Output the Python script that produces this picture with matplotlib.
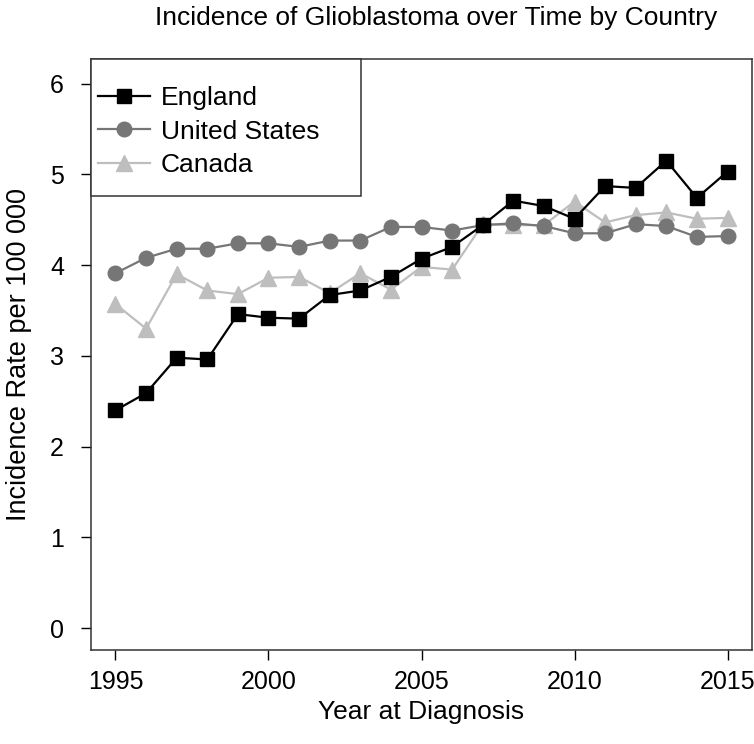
import matplotlib
matplotlib.use("Agg")
import matplotlib.pyplot as plt
from matplotlib.patches import Rectangle

years = list(range(1995, 2016))
england = [2.40, 2.59, 2.98, 2.96, 3.46, 3.42, 3.41, 3.67, 3.72, 3.87, 4.07, 4.20,
           4.44, 4.71, 4.65, 4.51, 4.87, 4.85, 5.15, 4.74, 5.03]
united_states = [3.91, 4.08, 4.18, 4.18, 4.24, 4.24, 4.20, 4.27, 4.27, 4.42, 4.42, 4.38,
                 4.44, 4.46, 4.43, 4.35, 4.35, 4.45, 4.43, 4.31, 4.32]
canada = [3.57, 3.30, 3.90, 3.72, 3.68, 3.86, 3.87, 3.69, 3.91, 3.73, 3.98, 3.95,
          4.45, 4.44, 4.44, 4.70, 4.47, 4.55, 4.58, 4.51, 4.52]
series_names = ["England", "United States", "Canada"]
xticks = [1995, 2000, 2005, 2010, 2015]
yticks = [0, 1, 2, 3, 4, 5, 6]

plt.rcParams['font.family'] = ['Liberation Sans', 'DejaVu Sans']

fig = plt.figure(figsize=(7.54, 7.44), dpi=100)
ax = fig.add_axes([91/754, 1 - 650/744, 661/754, 591/744])

c_eng, c_us, c_can = "#000000", "#767676", "#BEBEBE"
lw = 1.6
l3, = ax.plot(years, canada, color=c_can, lw=lw, marker="^", ms=11.5, mec=c_can, mfc=c_can,
              label=series_names[2], zorder=2)
l2, = ax.plot(years, united_states, color=c_us, lw=lw, marker="o", ms=10.5, mec=c_us, mfc=c_us,
              label=series_names[1], zorder=3)
l1, = ax.plot(years, england, color=c_eng, lw=lw, marker="s", ms=10, mec=c_eng, mfc=c_eng,
              label=series_names[0], zorder=4)

ax.set_xlim(1994.2, 2015.8)
ax.set_ylim(-0.24, 6.27)
ax.set_xticks(xticks)
ax.set_yticks(yticks)
ax.tick_params(axis='both', direction='out', length=7.5, width=1, labelsize=18, colors='black')
ax.tick_params(axis='x', pad=7)
ax.tick_params(axis='y', pad=12)
for s in ax.spines.values():
    s.set_linewidth(1.1)
    s.set_color('#333333')

ax.set_xlabel("Year at Diagnosis", fontsize=19)
ax.set_ylabel("Incidence Rate per 100 000", fontsize=19.5)
ax.xaxis.set_label_coords(0.5, (650 - 712) / 591)
ax.yaxis.set_label_coords((19 - 91) / 661, 0.5)
ax.xaxis.label.set_va('center')
ax.yaxis.label.set_va('center')

fig.text(436/754, 1 - 18/744, "Incidence of Glioblastoma over Time by Country",
         fontsize=19, ha='center', va='center')

# legend box
rect = Rectangle((0, (650 - 196) / 591), (361 - 91) / 661, 1 - (650 - 196) / 591,
                 transform=ax.transAxes, fill=True, facecolor='white',
                 edgecolor='#333333', lw=1.1, zorder=5, clip_on=False)
ax.add_patch(rect)
leg = ax.legend(handles=[l1, l2, l3], loc='upper left', frameon=False, fontsize=19,
                handlelength=2.0, handletextpad=0.4, labelspacing=0.35,
                borderaxespad=0.0, bbox_to_anchor=(-0.006, 0.9715))
leg.set_zorder(6)

fig.savefig("out.png", dpi=100)
